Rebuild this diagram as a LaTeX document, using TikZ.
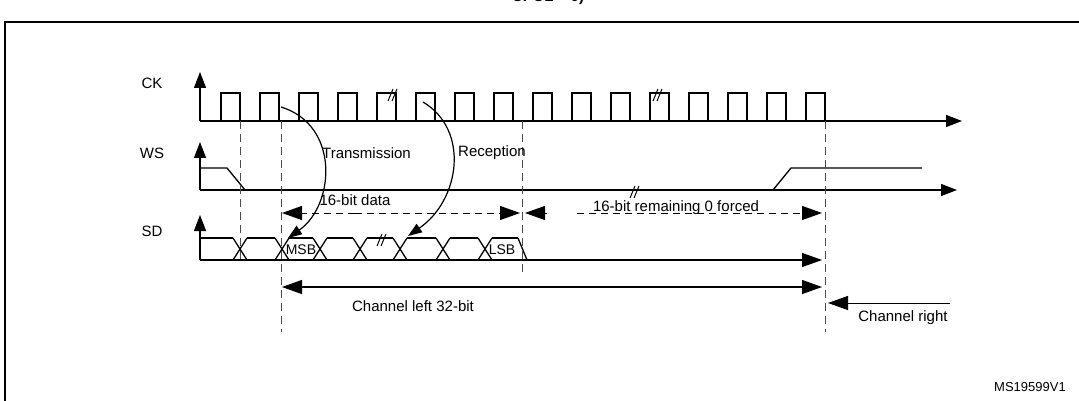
\documentclass[tikz,border=0pt]{standalone}
\usepackage{fontspec}
\setmainfont{Liberation Sans}
\usetikzlibrary{arrows.meta,positioning}

\tikzset{
  sig/.style={line width=1.3pt},
  axis/.style={line width=1.3pt,-{Triangle[length=16pt,width=12pt]}},
  dim/.style={line width=1pt,dash pattern=on 7pt off 5pt},
  guide/.style={line width=0.8pt,dash pattern=on 8pt off 5pt,gray!60!black},
  big/.style={-{Triangle[length=20pt,width=14pt]}},
  lbl/.style={font=\fontsize{15}{17}\selectfont,inner sep=1pt},
  brk/.style={line width=1pt},
}

\begin{document}
\begin{tikzpicture}[x=1pt,y=-1pt]
        \useasboundingbox (0,0) rectangle (1079,401);
        \draw[line width=1.6pt] (5,405) -- (5,22) -- (1085,22);
        \node[font=\bfseries\fontsize{15}{17}\selectfont] (title) at (548,-2){CPOL = 0)};

        % signal names
        \node[lbl] (ck) at (152,83){CK};
        \node[lbl] (ws) at (152,153){WS};
        \node[lbl] (sd) at (152,231){SD};

        % axes
        \coordinate (ck0) at (200,121);
        \coordinate (ws0) at (200,190);
        \coordinate (sd0) at (200,260);
        \draw[axis] (ck0) -- (200,72);
        \draw[axis] (ws0) -- (200,142);
        \draw[axis] (sd0) -- (200,215);
        \draw[axis] (ck0) -- (962,121);
        \draw[axis] (ws0) -- (957,190);

        % clock
        \foreach \i in {0,...,15}
            \draw[sig] (221+39*\i,121) -- (221+39*\i,93) -- (240+39*\i,93) -- (240+39*\i,121);
        \foreach \x in {393,658}
            \draw[brk] (\x-5,101) -- (\x,89) (\x-1,101) -- (\x+4,89);

        % word select
        \draw[sig] (200,168) -- (227,168) -- (245,190);
        \draw[sig] (773,190) -- (791,168) -- (922,168);
        \draw[brk] (630,198) -- (635,186) (634,198) -- (639,186);

        % serial data
        \draw[sig] (200,238) -- (233,238);
        \foreach \a/\b in {247/275,289/313,327/353,367/393,407/436,450/478,492/518}
            \draw[sig] (\a,238) -- (\b,238);
        \foreach \c in {240,282,320,360,400,443,485}
            \draw[sig] (\c-7,238) -- (\c+7,260) (\c-7,260) -- (\c+7,238);
        \draw[sig] (518,238) -- (527,260);
        \draw[brk] (377,246) -- (382,234) (381,246) -- (386,234);
        \coordinate (sdend) at (822,260);
        \draw[sig,big] (sd0) -- (sdend);
        \node[lbl,font=\fontsize{14}{16}\selectfont] (msb) at (301,250){MSB};
        \node[lbl,font=\fontsize{14}{16}\selectfont] (lsb) at (502,250){LSB};

        % guides
        \draw[guide] (240,121) -- (240,262);
        \draw[guide] (281,121) -- (281,332);
        \draw[guide] (522,121) -- (522,272);
        \draw[guide] (825,121) -- (825,332);

        % dimensions
        \coordinate (d0) at (282,213);
        \coordinate (d1) at (520,213);
        \coordinate (r0) at (525,213);
        \coordinate (r1) at (822,213);
        \draw[dim,big] (355,213) -- (d0);
        \draw[dim,big] (355,213) -- (d1);
        \node[lbl] (data) at (355,200){16-bit data};
        \draw[line width=1pt,big] (547,213) -- (r0);
        \draw[dim,big] (577,213) -- (r1);
        \node[lbl] (rem) at (676,208){16-bit remaining 0 forced};

        \coordinate (c0) at (282,287);
        \coordinate (c1) at (822,287);
        \draw[sig,big] (550,287) -- (c0);
        \draw[sig,big] (550,287) -- (c1);
        \node[lbl] (left) at (413,306){Channel left 32-bit};
        \coordinate (cr0) at (950,303);
        \coordinate (cr1) at (828,303);
        \draw[line width=1pt,big] (cr0) -- (cr1);
        \node[lbl] (right) at (903,318){Channel right};

        % transfer arrows
        \coordinate (tx0) at (281,107);
        \coordinate (tx1) at (288,238);
        \coordinate (rx0) at (423,102);
        \coordinate (rx1) at (408,236);
        \draw[line width=1.2pt,-{Triangle[length=14pt,width=10pt]}] (tx0) .. controls (340,125) and (335,205) .. (tx1);
        \draw[line width=1.2pt,-{Triangle[length=14pt,width=10pt]}] (rx0) .. controls (470,130) and (460,200) .. (rx1);
        \node[lbl,anchor=west] (tx) at (321,153){Transmission};
        \node[lbl,anchor=west] (rx) at (457,153){Reception};

        \node[lbl,font=\fontsize{13}{15}\selectfont] (id) at (1030,387){MS19599V1};
    \end{tikzpicture}
\end{document}
